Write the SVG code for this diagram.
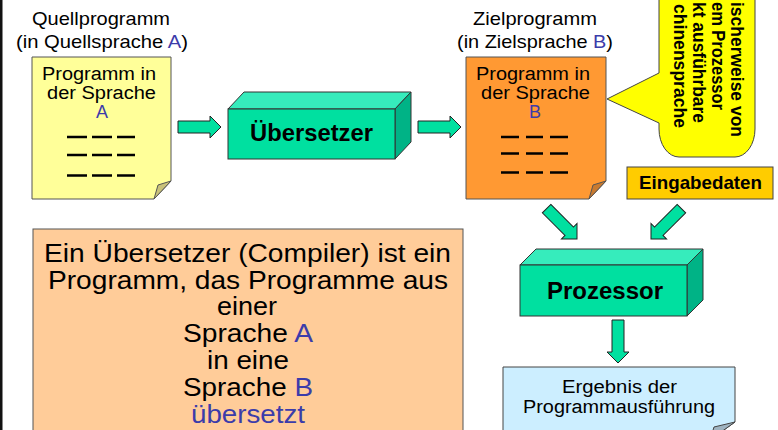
<svg xmlns="http://www.w3.org/2000/svg" width="778" height="430" viewBox="0 0 778 430">
  <defs>
    <style>
      .t { font-family: "Liberation Sans", Arial, sans-serif; fill: #000; }
      .b { font-family: "Liberation Sans", Arial, sans-serif; font-weight: bold; fill: #000; }
      .blue { fill: #3c3caa; }
      .edge { stroke: #333; stroke-width: 1; }
      .dash { stroke: #000; stroke-width: 2.6; }
      .front { fill: #00e0a0; }
      .top { fill: #36ecbc; }
      .side { fill: #00b386; }
      .arrow { fill: #00e0a0; stroke: #222; stroke-width: 1; }
    </style>
    <!-- block arrow pointing along +x, origin at the tail centre -->
    <path id="blockArrow" d="M0,-6 H32 V-11 L43,0 L32,11 V6 H0 Z"/>
  </defs>

  <rect width="778" height="430" fill="#fff"/>
  <rect x="0" y="0" width="2.5" height="430" fill="#111"/>

  <!-- source program -->
  <g id="quellprogramm">
    <text class="t" x="32" y="25" font-size="19" textLength="138" lengthAdjust="spacingAndGlyphs">Quellprogramm</text>
    <text class="t" x="16" y="48" font-size="19" textLength="172" lengthAdjust="spacingAndGlyphs">(in Quellsprache <tspan class="blue">A</tspan>)</text>
    <path d="M32,57 H171 V181 L154,199 H32 Z" fill="#ffff99" stroke="#555" stroke-width="1"/>
    <path d="M171,181 L158,185 L154,199 Z" fill="#c9c27a" stroke="#555" stroke-width="1"/>
    <text class="t" x="42" y="80" font-size="18" textLength="114" lengthAdjust="spacingAndGlyphs">Programm in</text>
    <text class="t" x="47" y="99" font-size="18" textLength="109" lengthAdjust="spacingAndGlyphs">der Sprache</text>
    <text class="t blue" x="102" y="118" font-size="18" text-anchor="middle">A</text>
    <path class="dash" d="M67,137 H87 M92,137 H112 M117,137 H135 M67,155 H87 M92,155 H112 M117,155 H135 M67,175.5 H87 M92,175.5 H112 M117,175.5 H135"/>
  </g>

  <!-- compiler -->
  <g id="uebersetzer">
    <polygon class="top edge" points="228,109 244,92 411,92 395,109"/>
    <polygon class="side edge" points="395,109 411,92 411,142 395,159"/>
    <rect class="front edge" x="228" y="109" width="167" height="50"/>
    <text class="b" x="250" y="141" font-size="23" textLength="123" lengthAdjust="spacingAndGlyphs">Übersetzer</text>
  </g>

  <!-- target program -->
  <g id="zielprogramm">
    <text class="t" x="473" y="25" font-size="19" textLength="124" lengthAdjust="spacingAndGlyphs">Zielprogramm</text>
    <text class="t" x="457" y="48" font-size="19" textLength="156" lengthAdjust="spacingAndGlyphs">(in Zielsprache <tspan class="blue">B</tspan>)</text>
    <path d="M466,57 H606 V181 L589,199 H466 Z" fill="#ff9933" stroke="#555" stroke-width="1"/>
    <path d="M606,181 L593,185 L589,199 Z" fill="#c87a30" stroke="#555" stroke-width="1"/>
    <text class="t" x="476" y="80" font-size="18" textLength="114" lengthAdjust="spacingAndGlyphs">Programm in</text>
    <text class="t" x="481" y="99" font-size="18" textLength="109" lengthAdjust="spacingAndGlyphs">der Sprache</text>
    <text class="t blue" x="535" y="118" font-size="18" text-anchor="middle">B</text>
    <path class="dash" d="M501,137 H519 M526,137 H543 M550,137 H568 M501,153.5 H519 M526,153.5 H543 M550,153.5 H568 M501,172.5 H519 M526,172.5 H543 M550,172.5 H568"/>
  </g>

  <!-- speech bubble on the target program -->
  <g id="maschinensprache">
    <path d="M659,-40 V73 L607,99 L659,123 V129 A20,28 0 0 0 679,157 H735 A20,28 0 0 0 755,129 V-40 Z" fill="#ffff00" stroke="#444" stroke-width="1"/>
    <text class="b" font-size="18" text-anchor="end" textLength="135" lengthAdjust="spacingAndGlyphs" transform="translate(731,137) rotate(90)">ischerweise von</text>
    <text class="b" font-size="18" text-anchor="end" textLength="108" lengthAdjust="spacingAndGlyphs" transform="translate(712,110) rotate(90)">em Prozessor</text>
    <text class="b" font-size="18" text-anchor="end" textLength="121" lengthAdjust="spacingAndGlyphs" transform="translate(693,123) rotate(90)">kt ausführbare</text>
    <text class="b" font-size="18" text-anchor="end" textLength="124" lengthAdjust="spacingAndGlyphs" transform="translate(674,128) rotate(90)">chinensprache</text>
  </g>

  <!-- input data -->
  <g id="eingabedaten">
    <rect x="627" y="167" width="146" height="32" fill="#ffcc00" stroke="#444" stroke-width="1"/>
    <text class="b" x="639" y="189" font-size="18.5" textLength="123" lengthAdjust="spacingAndGlyphs">Eingabedaten</text>
  </g>

  <!-- processor -->
  <g id="prozessor">
    <polygon class="top edge" points="520,265 536,249 703,249 687,265"/>
    <polygon class="side edge" points="687,265 703,249 703,300 687,316"/>
    <rect class="front edge" x="520" y="265" width="167" height="51"/>
    <text class="b" x="547" y="299" font-size="23.5" textLength="116" lengthAdjust="spacingAndGlyphs">Prozessor</text>
  </g>

  <!-- execution result -->
  <g id="ergebnis">
    <path d="M503,367 H735 V422 L710,440 H503 Z" fill="#cceeff" stroke="#444" stroke-width="1"/>
    <path d="M735,422 L714,427 L710,440 Z" fill="#9fb3c0" stroke="#444" stroke-width="1"/>
    <text class="t" x="562" y="393" font-size="18" textLength="115" lengthAdjust="spacingAndGlyphs">Ergebnis der</text>
    <text class="t" x="523" y="413" font-size="18" textLength="192" lengthAdjust="spacingAndGlyphs">Programmausführung</text>
  </g>

  <!-- definition box -->
  <g id="definition">
    <rect x="33" y="229" width="430" height="220" fill="#ffcc99" stroke="#555" stroke-width="1"/>
    <text class="t" x="44" y="262" font-size="25" textLength="407" lengthAdjust="spacingAndGlyphs">Ein Übersetzer (Compiler) ist ein</text>
    <text class="t" x="48" y="288.5" font-size="25" textLength="400" lengthAdjust="spacingAndGlyphs">Programm, das Programme aus</text>
    <text class="t" x="217" y="315" font-size="25" textLength="60" lengthAdjust="spacingAndGlyphs">einer</text>
    <text class="t" x="183" y="342" font-size="25" textLength="130" lengthAdjust="spacingAndGlyphs">Sprache <tspan class="blue">A</tspan></text>
    <text class="t" x="207" y="368.5" font-size="25" textLength="82" lengthAdjust="spacingAndGlyphs">in eine</text>
    <text class="t" x="183" y="396" font-size="25" textLength="130" lengthAdjust="spacingAndGlyphs">Sprache <tspan class="blue">B</tspan></text>
    <text class="t blue" x="191" y="422.5" font-size="25" textLength="114" lengthAdjust="spacingAndGlyphs">übersetzt</text>
  </g>

  <!-- connectors -->
  <g id="connectors">
    <use href="#blockArrow" class="arrow" transform="translate(178,127)"/>
    <use href="#blockArrow" class="arrow" transform="translate(418,127)"/>
    <use href="#blockArrow" class="arrow" transform="translate(546.6,208.6) rotate(45)"/>
    <use href="#blockArrow" class="arrow" transform="translate(681.4,208.6) rotate(135)"/>
    <use href="#blockArrow" class="arrow" transform="translate(618,320) rotate(90)"/>
  </g>
</svg>
